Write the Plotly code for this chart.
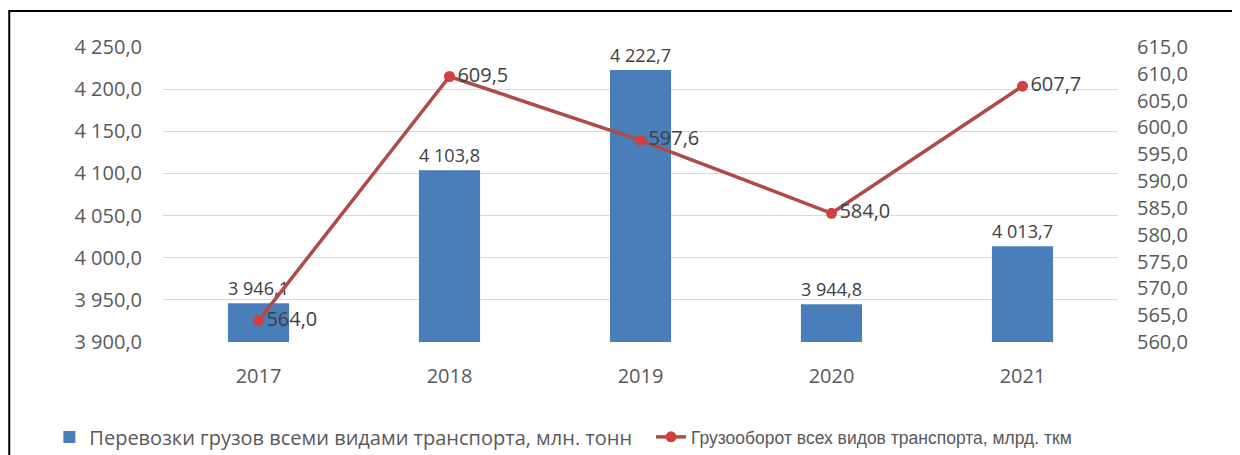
import plotly.graph_objects as go

years = ["2017", "2018", "2019", "2020", "2021"]
cargo = [3946.1, 4103.8, 4222.7, 3944.8, 4013.7]
turnover = [564.0, 609.5, 597.6, 584.0, 607.7]
left_ticks = [3900, 3950, 4000, 4050, 4100, 4150, 4200, 4250]
right_ticks = [560, 565, 570, 575, 580, 585, 590, 595, 600, 605, 610, 615]
name_bar = "Перевозки грузов всеми видами транспорта, млн. тонн"
name_line = "Грузооборот всех видов транспорта, млрд. ткм"

FONT = "Open Sans"
GRAY = "#595959"
FS = 20

fig = go.Figure()
fig.add_trace(go.Bar(
    x=years, y=cargo, name=name_bar, legend="legend",
    marker=dict(color="#4A7EBB", line=dict(width=0)),
    texttemplate="%{y:,.1f}",
    textposition="outside",
    textfont=dict(family=FONT, size=FS, color="#404040"),
    cliponaxis=False,
))
fig.add_trace(go.Scatter(
    x=years, y=turnover, name=name_line, yaxis="y2", legend="legend2",
    mode="lines+markers+text",
    line=dict(color="#B04A48", width=3.5),
    marker=dict(color="#D23F3F", size=11),
    texttemplate="%{y:,.1f}", textposition="middle right",
    textfont=dict(family=FONT, size=FS, color="#404040"),
    cliponaxis=False,
))

legend_common = dict(orientation="h", yanchor="middle", y=-0.322, xanchor="left",
                     itemwidth=30, bgcolor="rgba(0,0,0,0)")

fig.update_layout(
    width=1232, height=447,
    margin=dict(l=155, r=122, t=39, b=113, autoexpand=False),
    paper_bgcolor="white", plot_bgcolor="white",
    separators=", ",
    bargap=0.68,
    font=dict(family=FONT, size=FS, color=GRAY),
    showlegend=True,
    legend=dict(x=-0.119, font=dict(family=FONT, size=FS, color=GRAY), **legend_common),
    legend2=dict(x=0.511, font=dict(family="Liberation Sans", size=17.5, color=GRAY),
                 **legend_common),
    xaxis=dict(showline=False, ticks="", automargin=False, ticklabelstandoff=20,
               tickfont=dict(size=FS, color=GRAY)),
    yaxis=dict(range=[3900, 4250], tickvals=left_ticks, tickformat=",.1f",
               showgrid=True, gridcolor="#d9d9d9", gridwidth=1, zeroline=False,
               showline=False, ticks="", ticklabelstandoff=20, automargin=False,
               tickfont=dict(size=FS, color=GRAY)),
    yaxis2=dict(range=[560, 615], tickvals=right_ticks, tickformat=",.1f",
                overlaying="y", side="right", showgrid=False, zeroline=False,
                showline=False, ticks="", ticklabelstandoff=18, automargin=False,
                tickfont=dict(size=FS, color=GRAY)),
    shapes=[dict(type="rect", xref="paper", yref="paper",
                 x0=-0.161, x1=1.2, y0=-0.6, y1=1.122,
                 line=dict(color="black", width=2), fillcolor="rgba(0,0,0,0)",
                 layer="below")],
)

fig.write_html("out.html")
